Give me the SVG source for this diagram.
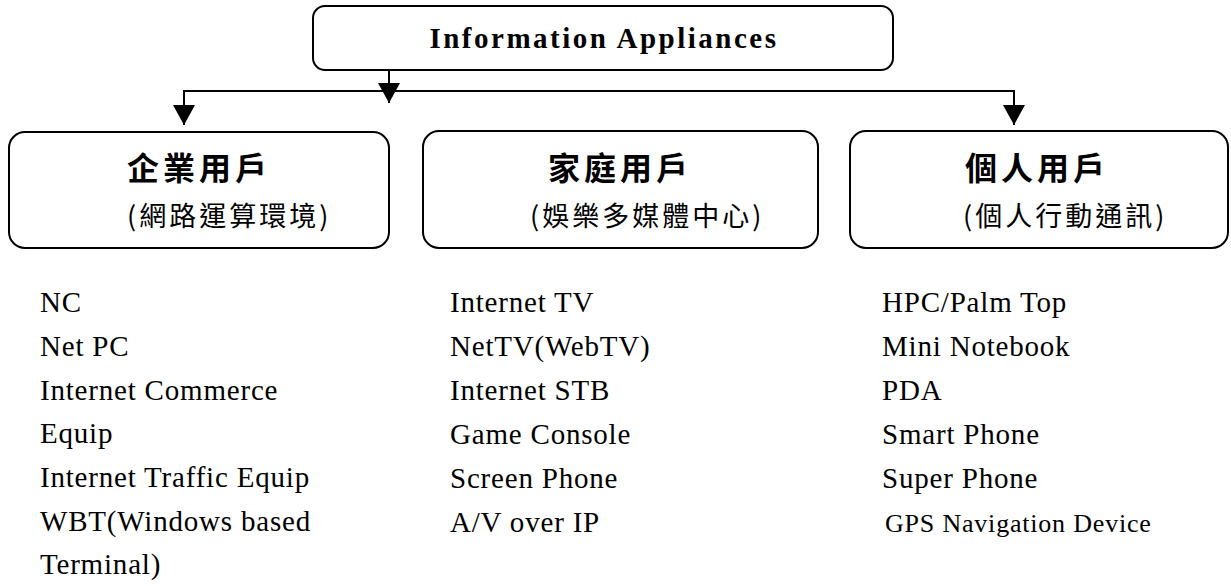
<svg xmlns="http://www.w3.org/2000/svg" width="1231" height="586" viewBox="0 0 1231 586">
<style>
.box{fill:#fff;stroke:#000;stroke-width:2}
.conn{fill:none;stroke:#000;stroke-width:2}
.head{font-family:"Liberation Serif",serif;font-weight:bold;font-size:29px;letter-spacing:2.5px;fill:#000}
.title{font-family:"Noto Sans CJK TC",sans-serif;font-weight:bold;font-size:32px;letter-spacing:4px;fill:#000}
.sub{font-family:"Noto Sans CJK TC",sans-serif;font-size:27px;letter-spacing:3px;fill:#000}
.item{font-family:"Liberation Serif",serif;font-size:29px;letter-spacing:0.8px;fill:#000}
.gps{font-family:"Liberation Serif",serif;font-size:26px;letter-spacing:0.8px;fill:#000}
</style>
<defs>
<marker id="ah" markerUnits="userSpaceOnUse" markerWidth="20" markerHeight="22" refX="20" refY="11" orient="auto">
<path d="M0,0 L20,11 L0,22 z" fill="#000"/>
</marker>
</defs>
<g id="connectors">
<line class="conn" x1="389" y1="70" x2="389" y2="103" marker-end="url(#ah)"/>
<polyline class="conn" points="184,124 184,91 1014,91 1014,124"/>
<line class="conn" x1="184" y1="100" x2="184" y2="125" marker-end="url(#ah)"/>
<line class="conn" x1="1014" y1="100" x2="1014" y2="125" marker-end="url(#ah)"/>
</g>
<g id="root">
<rect class="box" x="313" y="6" width="580" height="64" rx="12"/>
<text class="head" x="604" y="48" text-anchor="middle">Information Appliances</text>
</g>
<g id="enterprise">
<rect class="box" x="9" y="132" width="380" height="116" rx="16"/>
<text class="title" x="199" y="180" text-anchor="middle">企業用戶</text>
<text class="sub" x="127" y="226">(網路運算環境)</text>
</g>
<g id="home">
<rect class="box" x="423" y="131" width="395" height="117" rx="16"/>
<text class="title" x="620" y="180" text-anchor="middle">家庭用戶</text>
<text class="sub" x="530" y="226">(娛樂多媒體中心)</text>
</g>
<g id="personal">
<rect class="box" x="850" y="131" width="378" height="117" rx="16"/>
<text class="title" x="1037" y="180" text-anchor="middle">個人用戶</text>
<text class="sub" x="963" y="226">(個人行動通訊)</text>
</g>
<g id="enterprise-items">
<text class="item" x="40" y="312">NC</text>
<text class="item" x="40" y="356">Net PC</text>
<text class="item" x="40" y="400">Internet Commerce</text>
<text class="item" x="40" y="443">Equip</text>
<text class="item" x="40" y="487">Internet Traffic Equip</text>
<text class="item" x="40" y="531">WBT(Windows based</text>
<text class="item" x="40" y="574">Terminal)</text>
</g>
<g id="home-items">
<text class="item" x="450" y="312">Internet TV</text>
<text class="item" x="450" y="356">NetTV(WebTV)</text>
<text class="item" x="450" y="400">Internet STB</text>
<text class="item" x="450" y="444">Game Console</text>
<text class="item" x="450" y="488">Screen Phone</text>
<text class="item" x="450" y="532">A/V over IP</text>
</g>
<g id="personal-items">
<text class="item" x="882" y="312">HPC/Palm Top</text>
<text class="item" x="882" y="356">Mini Notebook</text>
<text class="item" x="882" y="400">PDA</text>
<text class="item" x="882" y="444">Smart Phone</text>
<text class="item" x="882" y="488">Super Phone</text>
<text class="gps" x="885" y="532">GPS Navigation Device</text>
</g>
</svg>
